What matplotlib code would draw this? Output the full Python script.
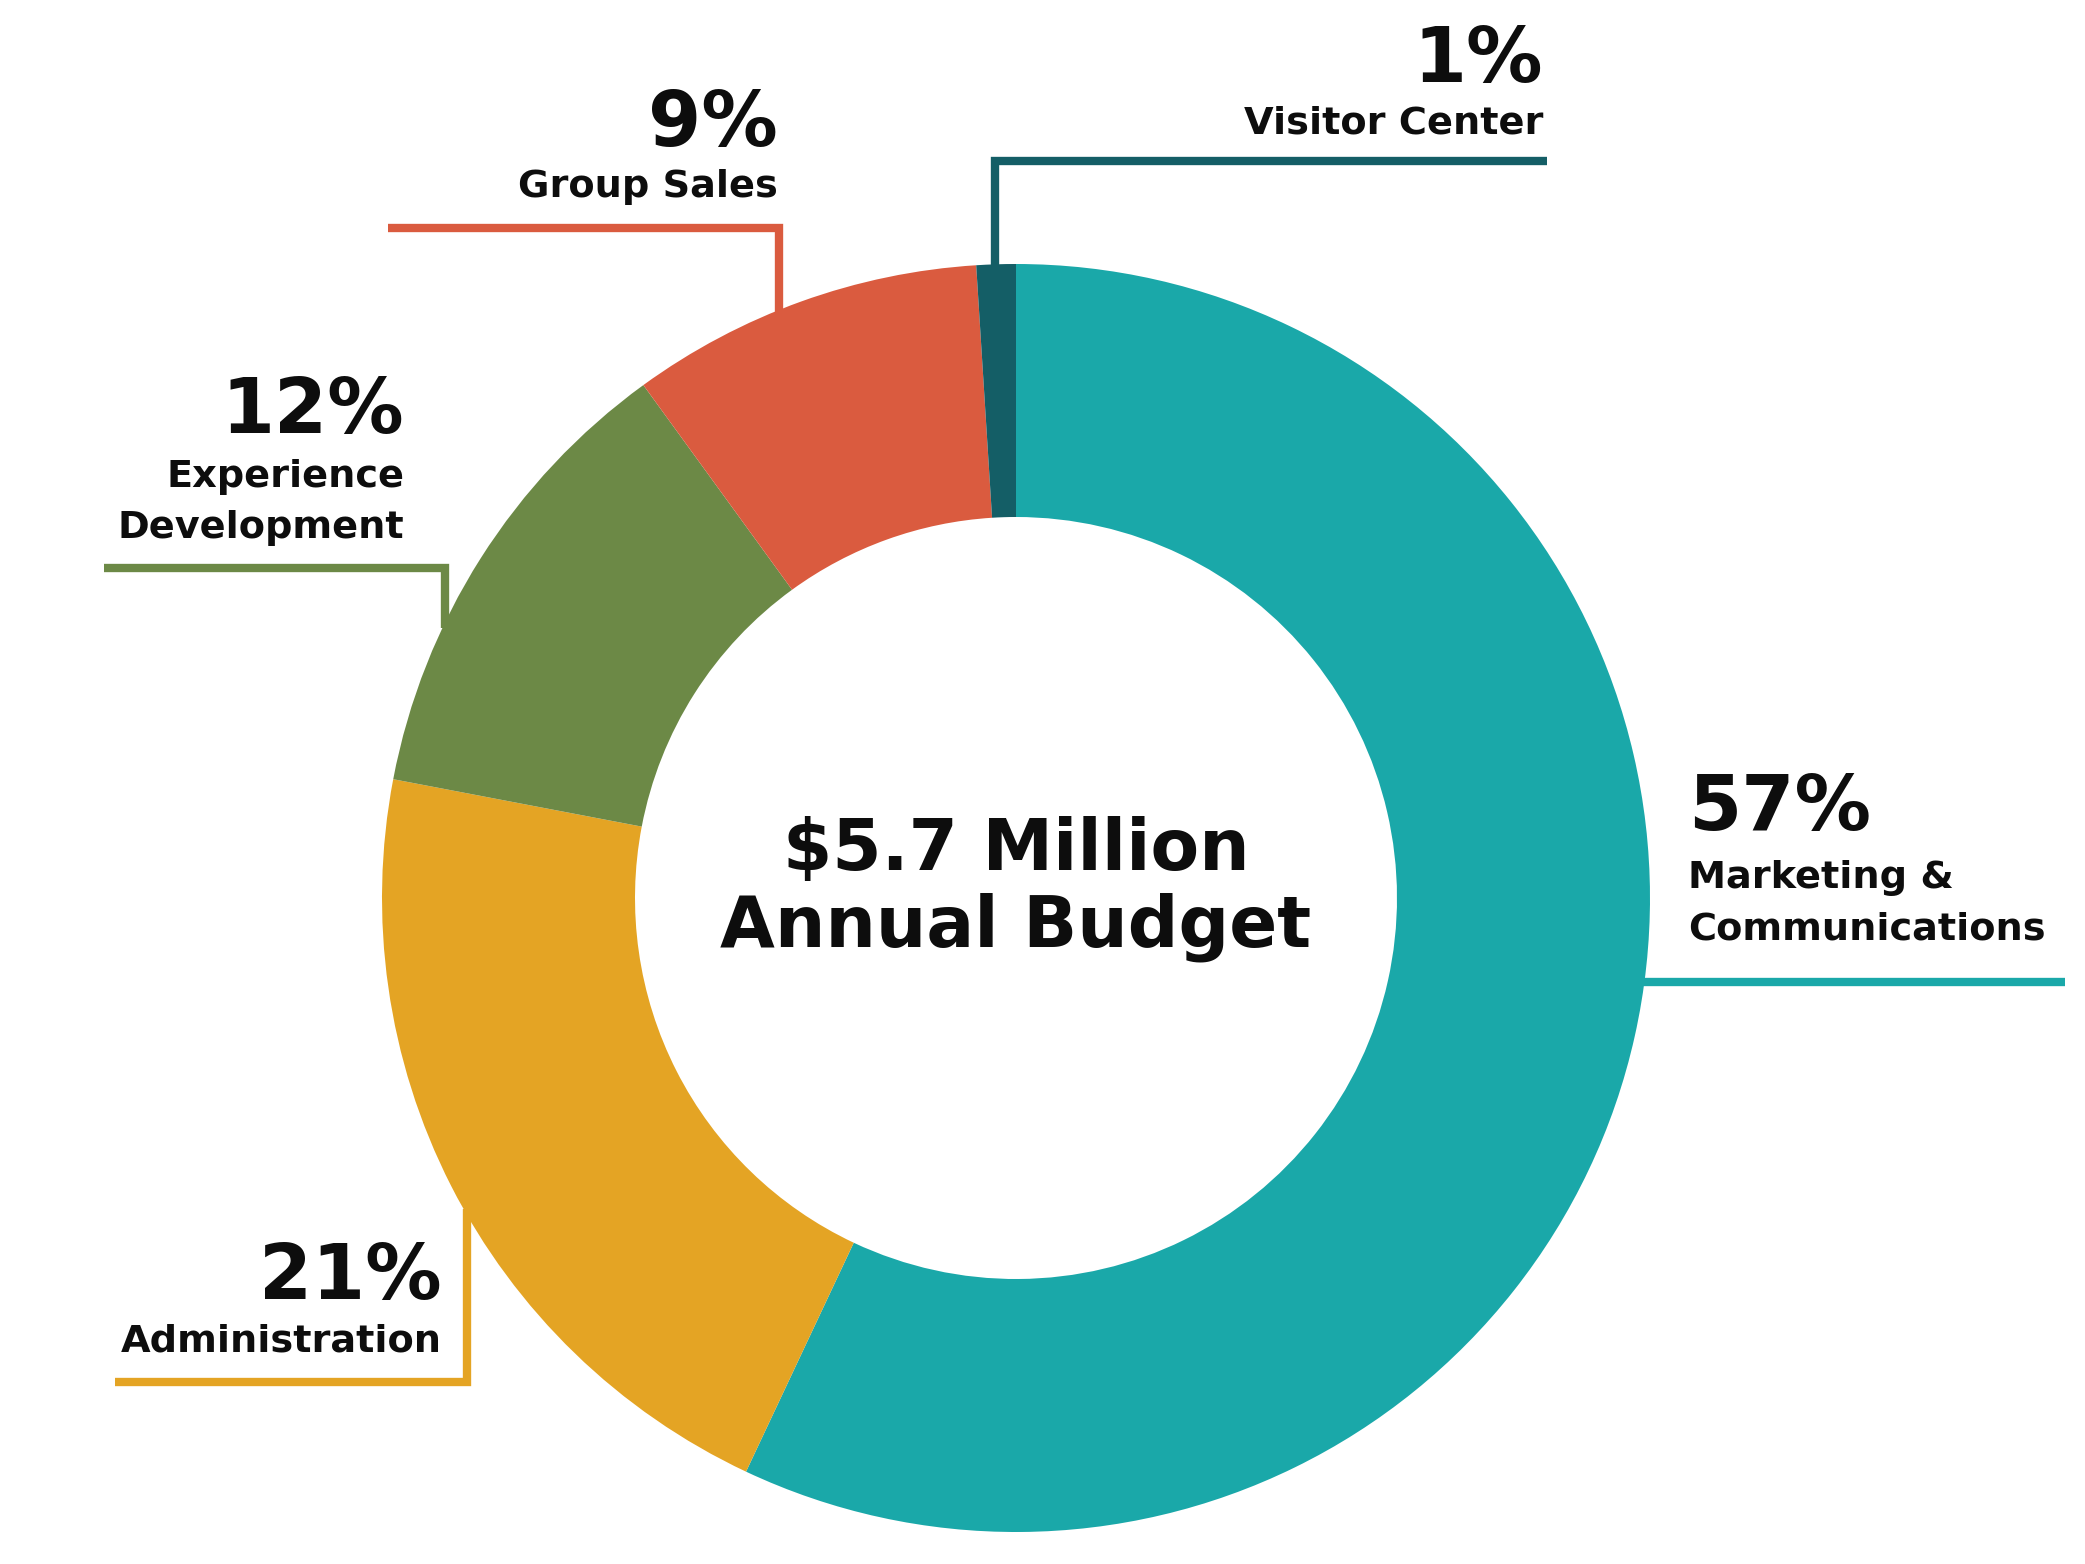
import numpy as np
import matplotlib
matplotlib.use("Agg")
from matplotlib import pyplot as plt

# data, clockwise from 12 o'clock
categories = ["Marketing &\nCommunications", "Administration",
              "Experience\nDevelopment", "Group Sales", "Visitor Center"]
shares = [57, 21, 12, 9, 1]
colors = ["#1aa8a9", "#e4a424", "#6c8946", "#da5b3f", "#145e66"]
center_text = ["$5.7 Million", "Annual Budget"]

W, H = 2085, 1564
cx, cy = 1016, 898          # donut centre, pixels from top-left
R, ring = 634, 253

# label layout: text anchor x, align, percent baseline, first name baseline,
# leader: ('v', x of vertical, y of elbow, x end) or ('h', y, x end)
layout = [
    dict(x=1688, ha="left", pb=830, nb=888, lead=("h", 982, 2065)),
    dict(x=442, ha="right", pb=1299, nb=1351, lead=("v", 467, 1382, 115)),
    dict(x=404, ha="right", pb=433, nb=487, lead=("v", 445, 568, 104)),
    dict(x=778, ha="right", pb=146, nb=197, lead=("v", 779, 228, 388)),
    dict(x=1543, ha="right", pb=82, nb=133, lead=("v", 995, 161, 1547)),
]
line_step = 51

fig = plt.figure(figsize=(W / 100, H / 100), dpi=100)
ax = fig.add_axes([0, 0, 1, 1])

ax.pie(shares, colors=colors, startangle=90, counterclock=False,
       radius=R, center=(cx, H - cy),
       wedgeprops=dict(width=ring, edgecolor="none", linewidth=0))

font = dict(family="DejaVu Sans", weight="bold", color="#0d0d0d")

for name, share, col, lay in zip(categories, shares, colors, layout):
    lead = lay["lead"]
    if lead[0] == "v":
        vx, ey, xend = lead[1], lead[2], lead[3]
        dy = np.sqrt(R ** 2 - (vx - cx) ** 2)
        sy = cy - dy if ey < cy else cy + dy
        sy = sy + (6 if ey < cy else -6)
        xs, ys = [vx, vx, xend], [sy, ey, ey]
    else:
        hy, xend = lead[1], lead[2]
        sx = cx + np.sqrt(R ** 2 - (hy - cy) ** 2) - 6
        xs, ys = [sx, xend], [hy, hy]
    ax.plot(xs, [H - y for y in ys], color=col, lw=6,
            solid_capstyle="butt", solid_joinstyle="miter", zorder=1)

    ax.text(lay["x"], H - lay["pb"], f"{share}%", fontsize=55,
            ha=lay["ha"], va="baseline", **font)
    for i, part in enumerate(name.split("\n")):
        ax.text(lay["x"], H - (lay["nb"] + i * line_step), part, fontsize=27.5,
                ha=lay["ha"], va="baseline", **font)

ax.text(cx, H - 870, center_text[0], fontsize=51, ha="center",
        va="baseline", **font)
ax.text(cx, H - 946, center_text[1], fontsize=51, ha="center",
        va="baseline", **font)

ax.set_xlim(0, W)
ax.set_ylim(0, H)
ax.set_aspect("equal")
ax.axis("off")

fig.savefig("out.png", dpi=100, facecolor="white")
